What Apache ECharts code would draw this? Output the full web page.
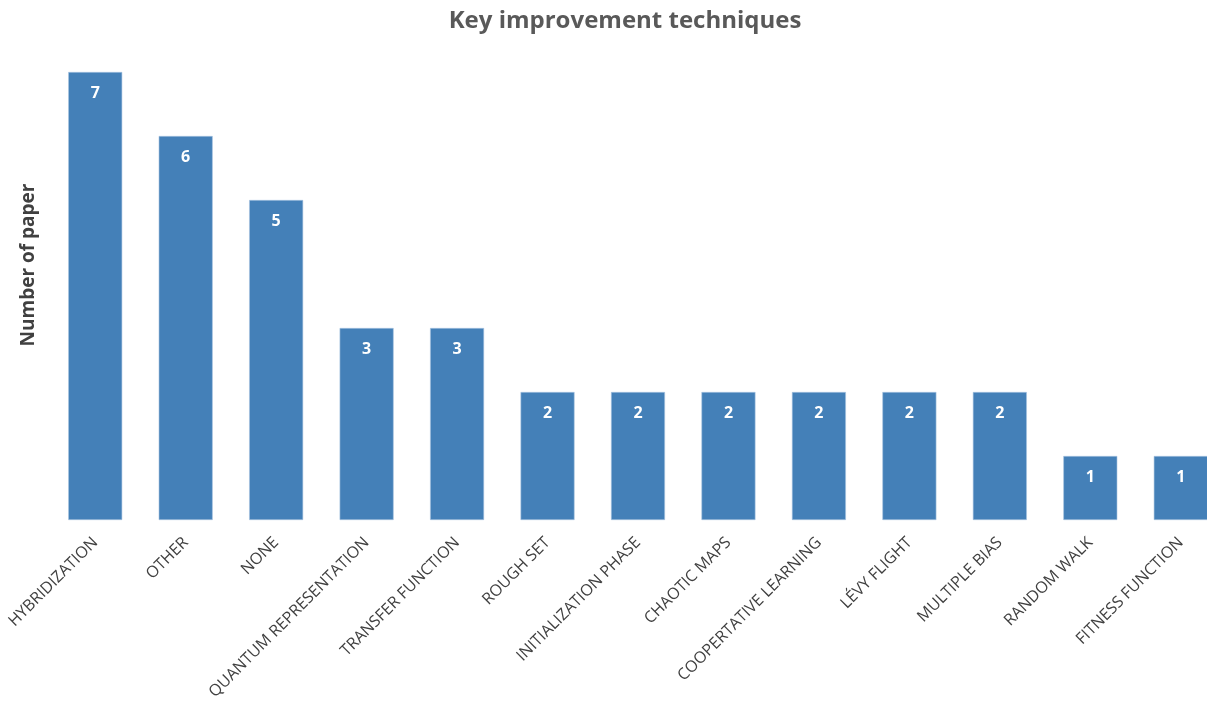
<!DOCTYPE html>
<html>
<head>
<meta charset="utf-8">
<script src="https://cdn.jsdelivr.net/npm/echarts@6/dist/echarts.min.js"></script>
<style>
  html, body { margin: 0; padding: 0; background: #fff; overflow: hidden; }
  #chart { width: 1227px; height: 705px; }
</style>
</head>
<body>
<div id="chart"></div>
<script>
// Improvement techniques and how many papers use each
const categories = [
  'HYBRIDIZATION', 'OTHER', 'NONE', 'QUANTUM REPRESENTATION', 'TRANSFER FUNCTION',
  'ROUGH SET', 'INITIALIZATION PHASE', 'CHAOTIC MAPS', 'COOPERTATIVE LEARNING',
  'LÉVY FLIGHT', 'MULTIPLE BIAS', 'RANDOM WALK', 'FITNESS FUNCTION'
];
const paperCounts = [7, 6, 5, 3, 3, 2, 2, 2, 2, 2, 2, 1, 1];

const chart = echarts.init(document.getElementById('chart'));
chart.setOption({
  animation: false,
  title: {
    text: 'Key improvement techniques',
    left: 620,
    textAlign: 'center',
    top: 4,
    textStyle: { fontFamily: 'Open Sans', fontWeight: 'bold', fontSize: 24, color: '#595959' }
  },
  grid: { left: 50, top: 72, width: 1176, height: 448 },
  xAxis: {
    type: 'category',
    data: categories,
    axisLine: { show: false },
    axisTick: { show: false },
    axisLabel: {
      rotate: 45,
      interval: 0,
      margin: 20,
      fontFamily: 'Open Sans',
      fontSize: 16,
      color: '#404040'
    }
  },
  yAxis: {
    type: 'value',
    min: 0,
    max: 7,
    interval: 1,
    name: 'Number of paper',
    nameLocation: 'middle',
    nameGap: 12,
    nameRotate: 90,
    nameTextStyle: {
      fontFamily: 'Open Sans', fontWeight: 'bold', fontSize: 19, color: '#404040',
      padding: [0, 0, 0, 62]
    },
    axisLine: { show: false },
    axisTick: { show: false },
    axisLabel: { show: false },
    splitLine: { show: false }
  },
  series: [{
    type: 'bar',
    data: paperCounts,
    barWidth: 54,
    itemStyle: { color: '#4480B8', borderColor: '#a9c4e0', borderWidth: 0.6 },
    label: {
      show: true,
      position: 'insideTop',
      distance: 13,
      color: '#ffffff',
      fontFamily: 'Open Sans',
      fontWeight: 'bold',
      fontSize: 16
    }
  }]
});
</script>
</body>
</html>
